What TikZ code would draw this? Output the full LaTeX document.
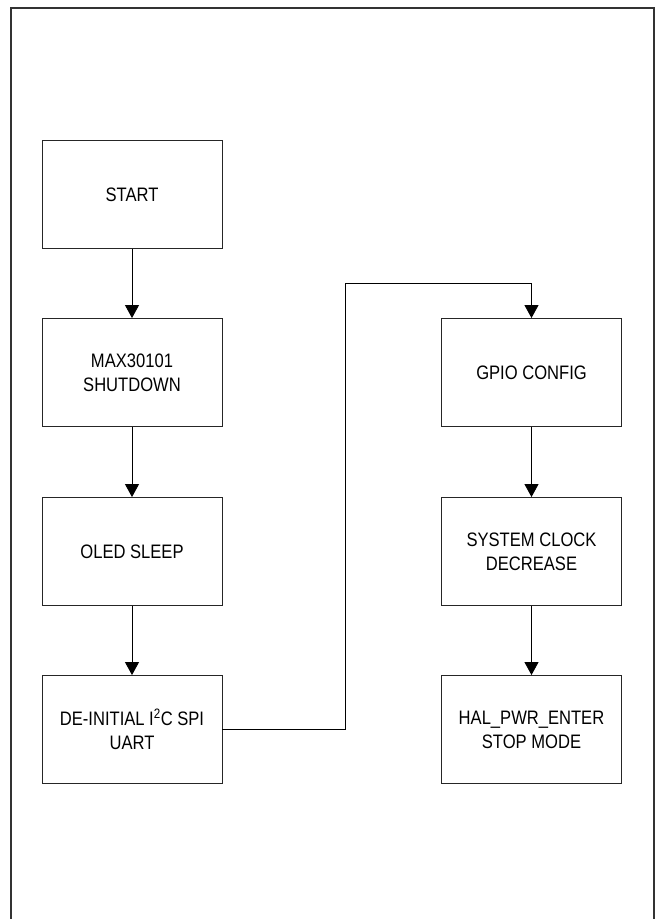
\documentclass[tikz,border=0pt]{standalone}
\usepackage{fontspec}
\setmainfont[FakeStretch=0.85]{Liberation Sans}
\usetikzlibrary{arrows.meta}
\begin{document}
\begin{tikzpicture}[x=1pt,y=-1pt,
  stepbox/.style={draw=black!85,line width=0.9pt,minimum width=180pt,minimum height=108pt,
    inner sep=0pt,align=center,font=\fontsize{19.5pt}{24pt}\selectfont},
  flow/.style={draw=black,line width=0.9pt,-{Triangle[width=14pt,length=13pt]}}]
\useasboundingbox (0,0) rectangle (656,919);
\draw[line width=2pt,draw=black!80] (10.5,930) -- (10.5,7.5) -- (653.5,7.5) -- (653.5,930);
\node[stepbox] (start) at (132,194.5) {START};
\node[stepbox] (max) at (132,372.5) {MAX30101\\SHUTDOWN};
\node[stepbox] (oled) at (132,551.5) {OLED SLEEP};
\node[stepbox] (deinit) at (132,729.5) {DE-INITIAL I\textsuperscript{2}C SPI\\UART};
\node[stepbox] (gpio) at (531.5,372.5) {GPIO CONFIG};
\node[stepbox] (sys) at (531.5,551.5) {SYSTEM CLOCK\\DECREASE};
\node[stepbox] (hal) at (531.5,729.5) {HAL\_PWR\_ENTER\\STOP MODE};
\coordinate (c1) at (345,729.5);
\coordinate (c2) at (345,283);
\coordinate (c3) at (531.5,283);
\draw[flow] (start) -- (max);
\draw[flow] (max) -- (oled);
\draw[flow] (oled) -- (deinit);
\draw[flow] (deinit.east) -- (c1) -- (c2) -- (c3) -- (gpio.north);
\draw[flow] (gpio) -- (sys);
\draw[flow] (sys) -- (hal);
\end{tikzpicture}
\end{document}
